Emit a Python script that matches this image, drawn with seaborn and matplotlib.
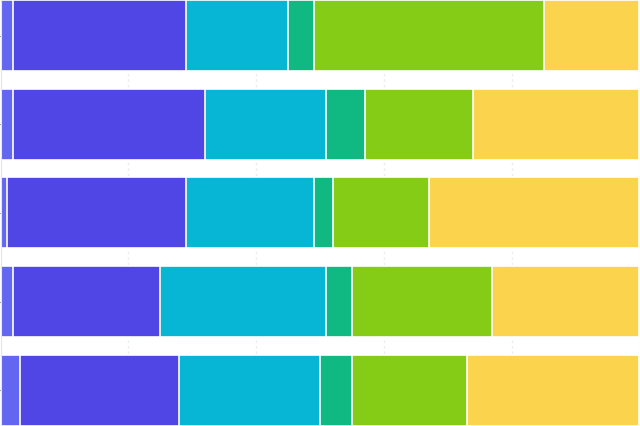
import matplotlib.pyplot as plt
import seaborn as sns
import numpy as np
import pandas as pd

# rows (top to bottom) and the six shares of each row, in percent
categories = ["A", "B", "C", "D", "E"]
seg1 = [2, 2, 1, 2, 3]
seg2 = [27, 30, 28, 23, 25]
seg3 = [16, 19, 20, 26, 22]
seg4 = [4, 6, 3, 4, 5]
seg5 = [36, 17, 15, 22, 18]
seg6 = [15, 26, 33, 23, 27]

colors = ["#6366f1", "#4f46e5", "#06b6d4", "#10b981", "#84cc16", "#fcd34d"]

sns.set_style("white")

segs = [seg1, seg2, seg3, seg4, seg5, seg6]
cum = np.cumsum(np.array(segs), axis=0)

fig = plt.figure(figsize=(6.4, 4.26), dpi=100)
ax = fig.add_axes([0.001, 0.0, 0.998, 1.0])

# draw the running totals from longest to shortest so each one covers the next
for i in range(len(segs) - 1, -1, -1):
    df = pd.DataFrame({"cat": categories, "val": cum[i]})
    sns.barplot(data=df, x="val", y="cat", orient="h", color=colors[i],
                width=0.8, edgecolor="white", linewidth=1.2,
                saturation=1, ax=ax, zorder=2)

ax.set_xlim(0, 100)
ax.set_ylim(4.4, -0.4)
ax.set_xticks([0, 20, 40, 60, 80, 100])
ax.xaxis.grid(True, linestyle=(0, (2, 2)), color="#eceef1", linewidth=1)
ax.set_axisbelow(True)
ax.set_xticklabels([])
ax.set_yticklabels([])
ax.set_xlabel("")
ax.set_ylabel("")
ax.tick_params(axis="y", length=4, color="#9ca3af", left=True)
ax.tick_params(axis="x", length=0)
for s in ["top", "right", "bottom"]:
    ax.spines[s].set_visible(False)
ax.spines["left"].set_color("#e5e7eb")

plt.savefig("out.png", dpi=100)
